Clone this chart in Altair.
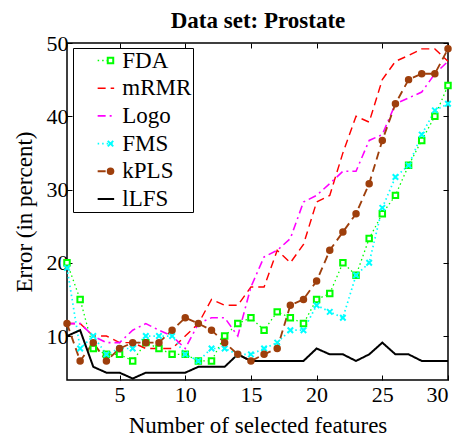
import altair as alt
import pandas as pd

x_vals = list(range(1, 31))
series_names = ["FDA", "mRMR", "Logo", "FMS", "kPLS", "lLFS"]

fda = [20.0, 15.0, 8.3, 7.5, 7.5, 6.6, 9.1, 8.3, 7.5, 7.5, 6.6, 6.6, 10.0, 11.7, 12.5,
       10.8, 13.3, 12.5, 11.7, 15.0, 15.8, 20.0, 18.3, 23.3, 26.7, 29.2, 33.3, 36.7, 40.0, 44.2]
mrmr = [11.7, 11.7, 10.0, 10.0, 9.1, 9.1, 8.3, 8.3, 8.3, 10.0, 11.7, 15.0, 14.2, 14.2, 16.7,
        16.7, 21.7, 20.0, 22.5, 28.3, 29.2, 35.0, 40.0, 39.2, 45.0, 47.5, 48.3, 49.2, 49.2, 47.5]
logo = [11.7, 11.7, 10.0, 9.1, 9.1, 10.8, 11.7, 10.8, 10.0, 8.3, 11.7, 12.5, 12.5, 10.0, 16.7,
        20.8, 21.7, 23.3, 28.3, 29.2, 30.8, 32.5, 32.5, 36.7, 37.5, 41.7, 42.5, 43.3, 45.8, 47.5]
fms = [19.3, 8.3, 10.0, 7.5, 8.3, 8.3, 10.0, 10.0, 10.0, 7.5, 6.6, 8.3, 8.3, 7.5, 7.5,
       8.3, 9.1, 10.8, 10.8, 14.2, 13.3, 12.5, 18.3, 20.0, 27.5, 31.7, 33.3, 37.5, 40.8, 41.7]
kpls = [11.7, 6.6, 9.1, 6.6, 8.3, 9.1, 9.1, 9.1, 10.8, 12.5, 11.7, 10.8, 9.1, 7.5, 6.6,
        7.5, 8.3, 14.2, 15.0, 17.5, 21.7, 24.2, 26.7, 30.8, 36.7, 41.7, 45.0, 45.8, 45.8, 49.2]
llfs = [10.0, 10.8, 5.8, 5.0, 5.0, 4.2, 5.0, 5.0, 5.0, 5.0, 5.8, 5.8, 5.8, 7.5, 6.6,
        6.6, 6.6, 6.6, 6.6, 8.3, 7.5, 7.5, 6.6, 7.5, 9.1, 7.5, 7.5, 6.6, 6.6, 6.6]

x_ticks = [5, 10, 15, 20, 25, 30]
y_ticks = [10, 20, 30, 40, 50]

rows = []
for name, vals in zip(series_names, [fda, mrmr, logo, fms, kpls, llfs]):
    for xv, v in zip(x_vals, vals):
        rows.append({"x": xv, "err": v, "series": name})
df = pd.DataFrame(rows)

brown = "#9E3F0C"
colors = ["#00FF00", "#FF0000", "#FF00FF", "#00FFFF", brown, "#000000"]
dashes = [[1.5, 3], [8, 5], [8, 4, 2, 4], [1.5, 3], [8, 5], [1, 0]]
widths = [1.3, 2, 2, 1.3, 2.5, 2]

mk_domain = [s + " " for s in series_names]
mk_shapes = ["square", "circle", "circle", "M-1,-1L1,1M-1,1L1,-1", "circle", "circle"]
mk_fills = ["white", "transparent", "transparent", "transparent", brown, "transparent"]
mk_strokes = ["#00FF00", "transparent", "transparent", "#00FFFF", brown, "transparent"]
mk_sizes = [30, 30, 30, 49, 64, 30]

font = "Liberation Serif, Times New Roman, DejaVu Serif, serif"
xscale = alt.Scale(domain=[1, 30], nice=False, zero=False)
yscale = alt.Scale(domain=[4, 50], nice=False, zero=False)
inward = {"expr": "-5"}

axis_common = dict(
    labelFont=font, labelFontSize=22, labelColor="black",
    titleFont=font, titleFontSize=23, titleFontWeight="normal", titleColor="black",
    tickColor="black", tickWidth=1, tickSize=inward, domain=False, grid=False,
)

leg1 = alt.Legend(
    orient="none", legendX=6, legendY=5, title=None,
    labelFont=font, labelFontSize=23, labelColor="black",
    symbolType="M-4,0H4", symbolSize=17, symbolStrokeWidth=2,
    strokeColor="black", fillColor="white", padding=1,
    symbolOffset=20.4, labelOffset=4.9, rowPadding=3.7,
)
leg2 = alt.Legend(
    orient="none", legendX=32, legendY=6, title=None,
    labelFont=font, labelFontSize=23, labelExpr="''",
    padding=0, rowPadding=3.7, symbolStrokeWidth=2,
)

lines = alt.Chart(df).mark_line().encode(
    x=alt.X("x:Q", scale=xscale, axis=alt.Axis(
        values=x_ticks, title="Number of selected features",
        labelPadding=9, titlePadding=9, **axis_common)),
    y=alt.Y("err:Q", scale=yscale, axis=alt.Axis(
        values=y_ticks, title="Error (in percent)",
        labelPadding=4, titlePadding=10, **axis_common)),
    color=alt.Color("series:N", scale=alt.Scale(domain=series_names, range=colors), legend=leg1),
    strokeDash=alt.StrokeDash("series:N", scale=alt.Scale(domain=series_names, range=dashes), legend=leg1),
    strokeWidth=alt.StrokeWidth("series:N", scale=alt.Scale(domain=series_names, range=widths), legend=None),
    order="x:Q",
)

points = alt.Chart(df).transform_filter(
    alt.FieldOneOfPredicate(field="series", oneOf=["FDA", "FMS", "kPLS"])
).transform_calculate(mk="datum.series + ' '").mark_point(filled=True, opacity=1, strokeWidth=2).encode(
    x=alt.X("x:Q", scale=xscale, axis=None),
    y=alt.Y("err:Q", scale=yscale, axis=None),
    shape=alt.Shape("mk:N", scale=alt.Scale(domain=mk_domain, range=mk_shapes), legend=leg2),
    fill=alt.Fill("mk:N", scale=alt.Scale(domain=mk_domain, range=mk_fills), legend=leg2),
    stroke=alt.Stroke("mk:N", scale=alt.Scale(domain=mk_domain, range=mk_strokes), legend=leg2),
    size=alt.Size("mk:N", scale=alt.Scale(domain=mk_domain, range=mk_sizes), legend=leg2),
)

top_common = dict(axis_common)
top_common.update(titleFontWeight="bold", titleFontSize=23)
frame = alt.Chart(df).mark_point(opacity=0).encode(
    x=alt.X("x:Q", scale=xscale, axis=alt.Axis(
        orient="top", values=x_ticks, labels=False, title="Data set: Prostate",
        titleBaseline="alphabetic", titlePadding=15, **top_common)),
    y=alt.Y("err:Q", scale=yscale, axis=alt.Axis(
        orient="right", values=y_ticks, labels=False, title=None, **axis_common)),
)

chart = alt.layer(lines, points, frame).resolve_axis(
    x="independent", y="independent"
).properties(
    width=381, height=337,
    autosize=alt.AutoSizeParams(type="none"),
    padding={"left": 59, "top": 35, "right": 7, "bottom": 60},
).configure_view(
    stroke="black", strokeWidth=1.5
)

chart.save("out.html", embed_options={"renderer": "svg", "actions": False})
